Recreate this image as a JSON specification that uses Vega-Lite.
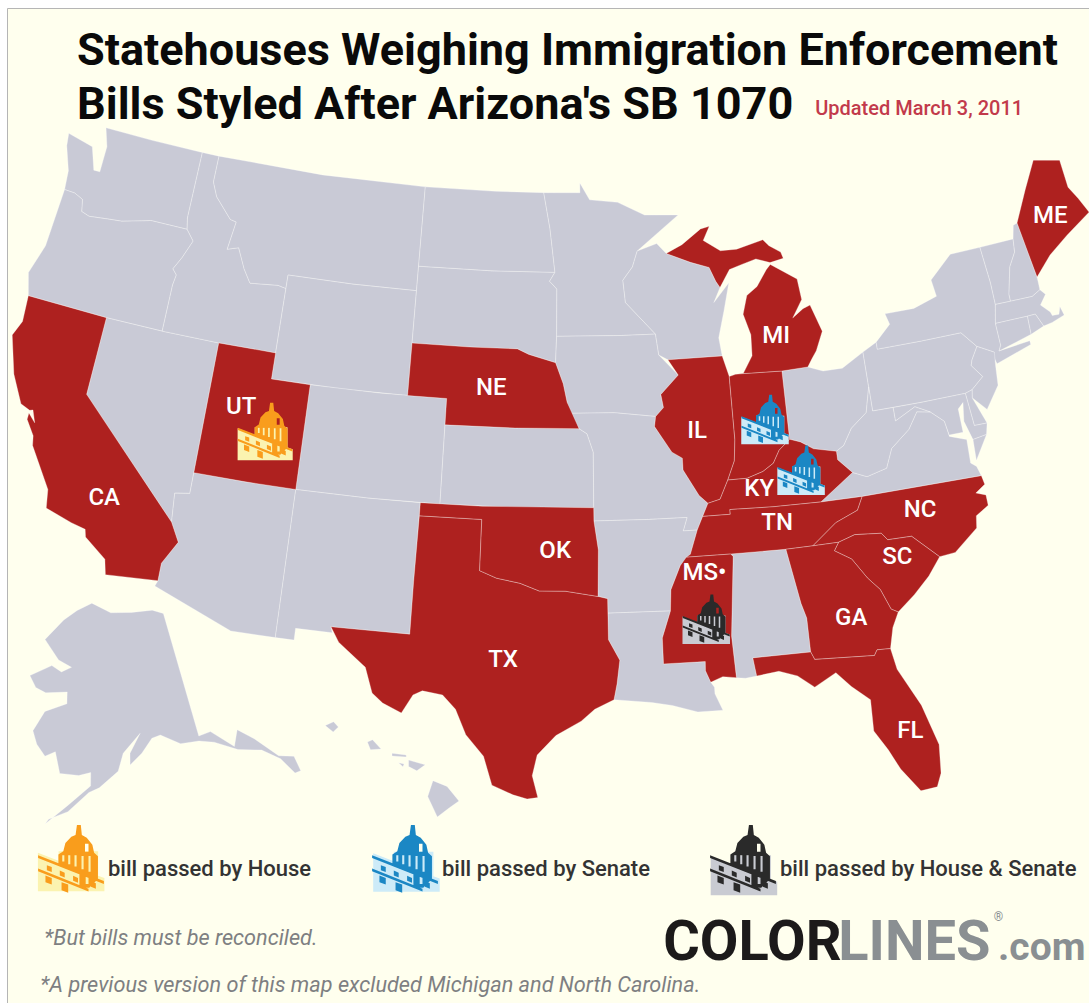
{"$schema":"https://vega.github.io/schema/vega-lite/v6.json","width":1082,"height":995,"padding":{"left":7,"top":8,"right":0,"bottom":0},"autosize":{"type":"none"},"background":"#ffffff","view":{"fill":"#FFFFEE","stroke":"#b5b5b5","strokeWidth":1},
"title":{"text":["Statehouses Weighing Immigration Enforcement","Bills Styled After Arizona's SB 1070"],"anchor":"start","frame":"group","dx":70,"offset":-120,"font":"Roboto","fontWeight":"bold","fontSize":45,"lineHeight":54,"color":"#0a0a0a"},
"projection":{"type":"albers","scale":1500,"translate":[546,455]},
"layer":[
{"data":{"values":[
{"state":"WA","status":"none","geo":{"type":"Polygon","coordinates":[[[-124.7,48.38],[-123.2,48.15],[-122.75,47.3],[-122.4,47.3],[-122.4,48.3],[-122.75,49],[-120,49],[-117.03,49],[-117.04,46.42],[-116.92,45.99],[-118.98,46],[-119.3,45.93],[-120.5,45.7],[-121.2,45.65],[-122.3,45.55],[-122.76,45.65],[-122.9,46.1],[-123.4,46.25],[-124,46.27],[-124.1,47],[-124.6,47.9],[-124.7,48.38]]]}},
{"state":"OR","status":"none","geo":{"type":"Polygon","coordinates":[[[-124,46.27],[-123.4,46.25],[-122.9,46.1],[-122.76,45.65],[-122.3,45.55],[-121.2,45.65],[-120.5,45.7],[-119.3,45.93],[-118.98,46],[-116.92,45.99],[-116.46,45.6],[-116.85,44.9],[-117.2,44.4],[-116.95,44.2],[-117.03,43.8],[-117.03,42],[-120,42],[-124.2,42],[-124.55,42.84],[-124.1,44],[-124,46.27]]]}},
{"state":"NV","status":"none","geo":{"type":"Polygon","coordinates":[[[-120,42],[-117.03,42],[-114.04,42],[-114.04,36.2],[-114.75,36.1],[-114.63,35],[-120,39],[-120,42]]]}},
{"state":"ID","status":"none","geo":{"type":"Polygon","coordinates":[[[-117.03,49],[-116.05,49],[-116.05,47.98],[-115.7,47.45],[-114.7,46.7],[-114.35,46.65],[-114.55,45.56],[-113.95,45.7],[-113.45,44.95],[-113,44.45],[-111.5,44.55],[-111.05,44.48],[-111.05,42],[-114.04,42],[-117.03,42],[-117.03,43.8],[-116.95,44.2],[-117.2,44.4],[-116.85,44.9],[-116.46,45.6],[-116.92,45.99],[-117.04,46.42],[-117.03,49]]]}},
{"state":"MT","status":"none","geo":{"type":"Polygon","coordinates":[[[-116.05,49],[-110,49],[-104.05,49],[-104.05,45],[-107.5,45],[-111.05,45],[-111.05,44.48],[-111.5,44.55],[-113,44.45],[-113.45,44.95],[-113.95,45.7],[-114.55,45.56],[-114.35,46.65],[-114.7,46.7],[-115.7,47.45],[-116.05,47.98],[-116.05,49]]]}},
{"state":"WY","status":"none","geo":{"type":"Polygon","coordinates":[[[-111.05,45],[-107.5,45],[-104.05,45],[-104.05,41],[-107.5,41],[-111.05,41],[-111.05,45]]]}},
{"state":"CO","status":"none","geo":{"type":"Polygon","coordinates":[[[-109.05,41],[-105.5,41],[-102.05,41],[-102.05,37],[-105.5,37],[-109.05,37],[-109.05,41]]]}},
{"state":"AZ","status":"none","geo":{"type":"Polygon","coordinates":[[[-114.04,37],[-111.5,37],[-109.05,37],[-109.05,31.33],[-111.07,31.33],[-114.81,32.5],[-114.72,32.72],[-114.72,33.4],[-114.14,34.3],[-114.63,35],[-114.75,36.1],[-114.04,36.2],[-114.04,37]]]}},
{"state":"NM","status":"none","geo":{"type":"Polygon","coordinates":[[[-109.05,37],[-105.5,37],[-103,37],[-103.04,34],[-103.04,32],[-106.62,32],[-106.53,31.78],[-108.2,31.78],[-108.2,31.33],[-109.05,31.33],[-109.05,37]]]}},
{"state":"KS","status":"none","geo":{"type":"Polygon","coordinates":[[[-102.05,40],[-98.5,40],[-95.3,40],[-94.9,39.8],[-94.6,39.1],[-94.62,37],[-98.5,37],[-102.05,37],[-102.05,40]]]}},
{"state":"SD","status":"none","geo":{"type":"Polygon","coordinates":[[[-104.05,45.94],[-100,45.94],[-96.56,45.94],[-96.85,45.6],[-96.45,45.3],[-96.45,43.5],[-96.5,42.5],[-97.9,42.8],[-98.5,43],[-101,43],[-104.05,43],[-104.05,45.94]]]}},
{"state":"ND","status":"none","geo":{"type":"Polygon","coordinates":[[[-104.05,49],[-100,49],[-97.23,49],[-96.85,47.6],[-96.56,45.94],[-100,45.94],[-104.05,45.94],[-104.05,49]]]}},
{"state":"MN","status":"none","geo":{"type":"Polygon","coordinates":[[[-97.23,49],[-95.15,49],[-95.15,49.38],[-94.6,48.72],[-93,48.6],[-91.5,48.07],[-89.6,48],[-92,46.7],[-92.3,46.1],[-92.85,45.6],[-92.75,44.75],[-91.22,43.5],[-93,43.5],[-96.45,43.5],[-96.45,45.3],[-96.85,45.6],[-96.56,45.94],[-96.85,47.6],[-97.23,49]]]}},
{"state":"IA","status":"none","geo":{"type":"Polygon","coordinates":[[[-96.45,43.5],[-93,43.5],[-91.22,43.5],[-91.1,42.7],[-90.15,41.9],[-91.1,41.2],[-91,40.7],[-91.42,40.38],[-93.5,40.58],[-95.77,40.58],[-95.9,41],[-96.1,41.7],[-96.5,42.5],[-96.45,43.5]]]}},
{"state":"MO","status":"none","geo":{"type":"Polygon","coordinates":[[[-95.77,40.58],[-93.5,40.58],[-91.42,40.38],[-91.5,40],[-90.7,39],[-90.2,38.75],[-90.2,38.3],[-89.5,37.3],[-89.1,36.98],[-89.4,36.5],[-89.7,36],[-90.37,36],[-90.15,36.5],[-92,36.5],[-94.62,36.5],[-94.62,37],[-94.6,39.1],[-94.9,39.8],[-95.3,40],[-95.77,40.58]]]}},
{"state":"AR","status":"none","geo":{"type":"Polygon","coordinates":[[[-94.62,36.5],[-92,36.5],[-90.15,36.5],[-90.37,36],[-89.7,36],[-90.1,35.1],[-90.6,34.7],[-91.1,33.8],[-91.17,33],[-94.04,33],[-94.04,33.55],[-94.48,33.64],[-94.43,35.4],[-94.62,36.5]]]}},
{"state":"LA","status":"none","geo":{"type":"Polygon","coordinates":[[[-94.04,33],[-91.17,33],[-91.6,31.99],[-91.6,31],[-89.73,31],[-89.75,30.65],[-89.55,30.2],[-89.4,30],[-89.4,29.75],[-89.1,29.1],[-90.2,29.1],[-91.3,29.4],[-92.2,29.55],[-93.85,29.7],[-93.7,30.3],[-93.55,31.2],[-94.04,31.99],[-94.04,33]]]}},
{"state":"AL","status":"none","geo":{"type":"Polygon","coordinates":[[[-88.2,35],[-85.6,34.98],[-85.18,32.87],[-85,32.3],[-85,31],[-87.6,31],[-87.5,30.3],[-88,30.25],[-88.4,30.3],[-88.47,31.9],[-88.1,34.9],[-88.2,35]]]}},
{"state":"WI","status":"none","geo":{"type":"Polygon","coordinates":[[[-92,46.7],[-90.9,46.95],[-90.4,46.55],[-89.1,46.15],[-88.1,45.9],[-87.8,45.35],[-87.6,45.1],[-88,44.55],[-87.1,45.25],[-87.5,44.2],[-87.9,43.2],[-87.8,42.5],[-90.64,42.5],[-91.1,42.7],[-91.22,43.5],[-92.75,44.75],[-92.85,45.6],[-92.3,46.1],[-92,46.7]]]}},
{"state":"OH","status":"none","geo":{"type":"Polygon","coordinates":[[[-84.8,41.7],[-83.45,41.73],[-82.7,41.5],[-81.7,41.5],[-80.52,41.98],[-80.52,40.64],[-80.85,39.7],[-81.7,39.2],[-82.2,38.6],[-82.6,38.42],[-83.7,38.63],[-84.3,38.95],[-84.82,39.1],[-84.8,41.7]]]}},
{"state":"PA","status":"none","geo":{"type":"Polygon","coordinates":[[[-80.52,41.98],[-79.76,42.27],[-79.76,42],[-77.5,42],[-75.35,42],[-74.7,41.36],[-75.1,40.9],[-75.2,40.7],[-74.75,40.2],[-75.42,39.8],[-75.79,39.72],[-78,39.72],[-80.52,39.72],[-80.52,40.64],[-80.52,41.98]]]}},
{"state":"NY","status":"none","geo":{"type":"Polygon","coordinates":[[[-79.76,42.27],[-78.9,42.85],[-79.05,43.27],[-77.5,43.27],[-76.2,43.55],[-76.3,44.2],[-75,45],[-73.35,45],[-73.25,43.6],[-73.27,42.75],[-73.5,42.05],[-73.5,41.2],[-73.65,41],[-72,41.1],[-72,40.95],[-73.9,40.55],[-74,40.9],[-73.9,41],[-74.7,41.36],[-75.35,42],[-77.5,42],[-79.76,42],[-79.76,42.27]]]}},
{"state":"NJ","status":"none","geo":{"type":"Polygon","coordinates":[[[-74.7,41.36],[-73.9,41],[-74,40.45],[-74.1,39.75],[-74.9,38.95],[-75.5,39.5],[-75.42,39.8],[-74.75,40.2],[-75.2,40.7],[-75.1,40.9],[-74.7,41.36]]]}},
{"state":"VT","status":"none","geo":{"type":"Polygon","coordinates":[[[-73.35,45],[-71.5,45],[-71.6,44.5],[-72.05,44],[-72.45,43],[-72.46,42.73],[-73.27,42.75],[-73.25,43.6],[-73.35,45]]]}},
{"state":"NH","status":"none","geo":{"type":"Polygon","coordinates":[[[-71.5,45],[-71.3,45.5],[-71.07,45.55],[-70.79,43.36],[-70.82,42.87],[-71.3,42.7],[-72.46,42.73],[-72.45,43],[-72.05,44],[-71.6,44.5],[-71.5,45]]]}},
{"state":"MA","status":"none","geo":{"type":"Polygon","coordinates":[[[-73.27,42.75],[-72.46,42.73],[-71.3,42.7],[-70.82,42.87],[-70.6,42.65],[-71,42.3],[-70.6,41.95],[-70.55,41.8],[-70.2,41.78],[-70.05,42.05],[-69.95,41.7],[-70.65,41.55],[-71.12,41.5],[-71.38,42.02],[-71.8,42.02],[-73.5,42.05],[-73.27,42.75]]]}},
{"state":"CT","status":"none","geo":{"type":"Polygon","coordinates":[[[-73.5,42.05],[-71.8,42.02],[-71.85,41.32],[-73.65,41],[-73.5,41.2],[-73.5,42.05]]]}},
{"state":"RI","status":"none","geo":{"type":"Polygon","coordinates":[[[-71.8,42.02],[-71.38,42.02],[-71.12,41.5],[-71.85,41.32],[-71.8,42.02]]]}},
{"state":"DE","status":"none","geo":{"type":"Polygon","coordinates":[[[-75.79,39.72],[-75.42,39.8],[-75.5,39.5],[-75.05,38.45],[-75.69,38.46],[-75.79,39.72]]]}},
{"state":"MD","status":"none","geo":{"type":"Polygon","coordinates":[[[-79.48,39.72],[-78,39.72],[-75.79,39.72],[-75.69,38.46],[-75.05,38.45],[-75.2,38.03],[-75.9,37.95],[-76.15,38.7],[-76,39.4],[-76.3,39.2],[-76.3,38.3],[-77,38.3],[-77.1,38.85],[-77.7,39.3],[-78.4,39.6],[-79.48,39.2],[-79.48,39.72]]]}},
{"state":"VA","status":"none","geo":{"type":"MultiPolygon","coordinates":[[[[-83.68,36.6],[-81.97,37.54],[-81.3,37.3],[-80.3,37.5],[-79.9,38.2],[-78.9,38.8],[-78.35,39.4],[-77.7,39.3],[-77.1,38.85],[-77,38.25],[-76.2,38],[-76.25,37.1],[-76,36.93],[-75.87,36.55],[-81.68,36.59],[-83.68,36.6]]],[[[-75.9,37.95],[-75.2,38.03],[-75.95,37.15],[-75.9,37.95]]]]}},
{"state":"WV","status":"none","geo":{"type":"Polygon","coordinates":[[[-80.52,40.64],[-80.52,39.72],[-79.48,39.72],[-79.48,39.2],[-78.4,39.6],[-77.7,39.3],[-78.35,39.4],[-78.9,38.8],[-79.9,38.2],[-80.3,37.5],[-81.3,37.3],[-81.97,37.54],[-82.6,38.1],[-82.6,38.42],[-82.2,38.6],[-81.7,39.2],[-80.85,39.7],[-80.52,40.64]]]}},
{"state":"AK","status":"none","geo":{"type":"Polygon","coordinates":[[[-117.43,31.36],[-116.51,31.16],[-115.6,31.34],[-114.71,31.58],[-114.19,31.54],[-111.71,27.17],[-111.25,27.41],[-110.14,26.99],[-110.13,27.64],[-109.35,27.39],[-108.22,26.87],[-107.57,26.92],[-107.21,26.4],[-107.44,26.29],[-108.12,26.76],[-108.97,27],[-109.97,26.89],[-111.02,27.03],[-111.67,26.98],[-112.42,26.76],[-113.33,26.95],[-113.66,26.77],[-113.96,26.13],[-114.35,25.6],[-114.45,26.04],[-114.19,26.87],[-114.73,25.99],[-114.79,25.27],[-115.42,24.5],[-115.8,24.24],[-116.48,23.34],[-117.18,22.89],[-117.28,22.68],[-116.53,23.59],[-115.79,24.5],[-115.9,25.01],[-116.36,24.8],[-117.15,24.72],[-117.53,25.5],[-117.91,25.24],[-118.36,25.62],[-118.65,26.09],[-118.35,26.92],[-117.51,27.4],[-117.61,27.84],[-118.5,27.62],[-118.97,27.73],[-119.34,28.12],[-118.52,28.69],[-118.05,28.54],[-117.67,28.8],[-118.29,28.96],[-119.08,29.6],[-118.48,30.49],[-118,30.96],[-117.43,31.36]]]}},
{"state":"HI","status":"none","geo":{"type":"MultiPolygon","coordinates":[[[[-101.6,26.47],[-100.99,26.28],[-100.46,25.74],[-100.86,25.45],[-101.33,25.08],[-101.78,25.85],[-101.6,26.47]]],[[[-102.69,27.2],[-101.97,27.06],[-102.31,26.81],[-102.67,26.95],[-102.69,27.2]]],[[[-103.42,27.41],[-102.81,27.39],[-102.8,27.31],[-103.41,27.31],[-103.42,27.41]]],[[[-103.11,27.07],[-102.87,27.04],[-102.91,26.93],[-103.11,27.07]]],[[[-104.51,27.76],[-104.3,27.87],[-103.9,27.54],[-104.35,27.48],[-104.51,27.76]]],[[[-106.39,28.23],[-106.05,28.41],[-105.82,28.23],[-106.02,28.02],[-106.39,28.23]]]]}},
{"state":"CA","status":"bill","geo":{"type":"Polygon","coordinates":[[[-124.2,42],[-120,42],[-120,39],[-114.63,35],[-114.14,34.3],[-114.72,33.4],[-114.72,32.72],[-117.12,32.53],[-117.3,33.1],[-118.4,33.75],[-118.5,34.03],[-119.2,34.15],[-120.5,34.45],[-120.65,35.15],[-121.9,36.6],[-122,36.96],[-122.5,37.5],[-122.5,37.75],[-122.1,37.45],[-122.35,37.9],[-122.5,37.85],[-123,38],[-123.75,39],[-124.4,40.4],[-124.1,41],[-124.2,42]]]}},
{"state":"UT","status":"bill","geo":{"type":"Polygon","coordinates":[[[-114.04,42],[-111.05,42],[-111.05,41],[-109.05,41],[-109.05,37],[-111.5,37],[-114.04,37],[-114.04,42]]]}},
{"state":"NE","status":"bill","geo":{"type":"Polygon","coordinates":[[[-104.05,43],[-101,43],[-98.5,43],[-97.9,42.8],[-96.5,42.5],[-96.1,41.7],[-95.9,41],[-95.3,40],[-98.5,40],[-102.05,40],[-102.05,41],[-104.05,41],[-104.05,43]]]}},
{"state":"TX","status":"bill","geo":{"type":"Polygon","coordinates":[[[-103,36.5],[-100,36.5],[-100,34.56],[-99.2,34.3],[-98.1,34.13],[-97.2,33.85],[-96,33.85],[-94.48,33.64],[-94.04,33.55],[-94.04,33],[-94.04,31.99],[-93.55,31.2],[-93.7,30.3],[-93.85,29.7],[-94.7,29.35],[-95.3,28.9],[-96.4,28.35],[-97.2,27.6],[-97.4,26.8],[-97.15,25.96],[-97.6,25.9],[-98.2,26.05],[-99.1,26.4],[-99.5,27.5],[-100.3,28.3],[-100.8,29.25],[-101.4,29.77],[-102.3,29.88],[-102.7,29.7],[-103.15,28.98],[-104,29.3],[-104.5,29.65],[-104.9,30.6],[-106.2,31.45],[-106.62,32],[-103.04,32],[-103.04,34],[-103,36.5]]]}},
{"state":"OK","status":"bill","geo":{"type":"Polygon","coordinates":[[[-103,37],[-100,37],[-94.62,37],[-94.62,36.5],[-94.43,35.4],[-94.48,33.64],[-96,33.85],[-97.2,33.85],[-98.1,34.13],[-99.2,34.3],[-100,34.56],[-100,36.5],[-103,36.5],[-103,37]]]}},
{"state":"IL","status":"bill","geo":{"type":"Polygon","coordinates":[[[-90.64,42.5],[-87.8,42.5],[-87.53,41.7],[-87.53,39.3],[-87.65,38.5],[-88.05,37.8],[-88.5,37.1],[-89.1,36.98],[-89.5,37.3],[-90.2,38.3],[-90.2,38.75],[-90.7,39],[-91.5,40],[-91.42,40.38],[-91,40.7],[-91.1,41.2],[-90.15,41.9],[-90.64,42.5]]]}},
{"state":"IN","status":"bill","geo":{"type":"Polygon","coordinates":[[[-87.53,41.7],[-87.2,41.76],[-86.8,41.76],[-84.8,41.7],[-84.82,39.1],[-85.4,38.73],[-85.75,38.27],[-86.3,38],[-87.1,37.8],[-88.05,37.8],[-87.65,38.5],[-87.53,39.3],[-87.53,41.7]]]}},
{"state":"KY","status":"bill","geo":{"type":"Polygon","coordinates":[[[-89.1,36.98],[-88.5,37.1],[-88.05,37.8],[-87.1,37.8],[-86.3,38],[-85.75,38.27],[-85.4,38.73],[-84.82,39.1],[-84.3,38.95],[-83.7,38.63],[-82.6,38.42],[-82.6,38.1],[-81.97,37.54],[-83.68,36.6],[-86,36.63],[-88.07,36.68],[-88.07,36.5],[-89.4,36.5],[-89.1,36.98]]]}},
{"state":"TN","status":"bill","geo":{"type":"Polygon","coordinates":[[[-89.4,36.5],[-88.07,36.5],[-88.07,36.68],[-86,36.63],[-83.68,36.6],[-81.68,36.59],[-82,36.1],[-83.1,35.75],[-84.32,34.99],[-85.6,34.98],[-88.2,35],[-90.3,35],[-90.1,35.1],[-89.7,36],[-89.4,36.5]]]}},
{"state":"MS","status":"bill","geo":{"type":"Polygon","coordinates":[[[-90.3,35],[-88.2,35],[-88.1,34.9],[-88.47,31.9],[-88.4,30.3],[-89,30.38],[-89.55,30.2],[-89.75,30.65],[-89.73,31],[-91.6,31],[-91.6,31.99],[-91.17,33],[-91.1,33.8],[-90.6,34.7],[-90.3,35]]]}},
{"state":"MI","status":"bill","geo":{"type":"MultiPolygon","coordinates":[[[[-84.75,45.78],[-83.4,45.1],[-83.3,44.3],[-83.9,43.65],[-83.3,43.95],[-82.9,44.05],[-82.45,43],[-82.9,42.3],[-83.2,42],[-83.45,41.73],[-84.8,41.7],[-86.8,41.76],[-86.25,42.4],[-86.2,43.2],[-86.5,44],[-86.2,44.7],[-85.6,45],[-85,45.6],[-84.75,45.78]]],[[[-90.4,46.55],[-89.5,46.85],[-88.4,47.4],[-87.9,47.47],[-88.3,46.95],[-87.4,46.5],[-86.5,46.5],[-85,46.75],[-84.7,46.5],[-84.1,46.2],[-84,45.95],[-84.75,45.85],[-85.5,46.05],[-86.3,45.9],[-87,45.75],[-87.6,45.1],[-87.8,45.35],[-88.1,45.9],[-89.1,46.15],[-90.4,46.55]]]]}},
{"state":"ME","status":"bill","geo":{"type":"Polygon","coordinates":[[[-71.07,45.55],[-70.16,46.69],[-69.27,47.7],[-67.85,47.41],[-67.84,46.33],[-67.49,45.81],[-67.14,45.18],[-68.63,44.59],[-69.81,44.04],[-70.79,43.36],[-71.07,45.55]]]}},
{"state":"NC","status":"bill","geo":{"type":"Polygon","coordinates":[[[-84.32,34.99],[-83.1,35.75],[-82,36.1],[-81.68,36.59],[-75.87,36.55],[-75.8,36.2],[-76.3,35.95],[-75.85,35.8],[-75.85,35.4],[-76.5,35.1],[-76.6,34.65],[-77.8,33.9],[-78.55,33.85],[-79.67,34.8],[-80.8,34.82],[-81.05,35.1],[-82.3,35.2],[-83.1,35],[-84.32,34.99]]]}},
{"state":"SC","status":"bill","geo":{"type":"Polygon","coordinates":[[[-83.1,35],[-82.3,35.2],[-81.05,35.1],[-80.8,34.82],[-79.67,34.8],[-78.55,33.85],[-79.2,33.2],[-80,32.6],[-80.85,32.05],[-81.15,32.2],[-81.5,33],[-82,33.5],[-82.6,34.3],[-83.35,34.7],[-83.1,35]]]}},
{"state":"GA","status":"bill","geo":{"type":"Polygon","coordinates":[[[-85.6,34.98],[-84.32,34.99],[-83.1,35],[-83.35,34.7],[-82.6,34.3],[-82,33.5],[-81.5,33],[-81.15,32.2],[-80.85,32.05],[-81.2,31.5],[-81.45,30.72],[-82.05,30.75],[-82.2,30.55],[-84.86,30.7],[-85,31],[-85,32.3],[-85.18,32.87],[-85.6,34.98]]]}},
{"state":"FL","status":"bill","geo":{"type":"Polygon","coordinates":[[[-87.6,31],[-85,31],[-84.86,30.7],[-82.2,30.55],[-82.05,30.75],[-81.45,30.72],[-81.3,29.9],[-80.5,28.4],[-80.03,26.8],[-80.15,25.7],[-80.4,25.2],[-81.1,25.15],[-81.8,26.1],[-82.2,26.9],[-82.7,27.7],[-82.65,28.9],[-83.4,29.5],[-84,30.1],[-85,29.65],[-85.7,30.15],[-86.5,30.4],[-87.5,30.3],[-87.6,31]]]}}
]},"mark":{"type":"geoshape","stroke":"#ffffff","strokeOpacity":0.3,"strokeWidth":1},"encoding":{"shape":{"field":"geo","type":"geojson"},"fill":{"field":"status","type":"nominal","scale":{"domain":["none","bill"],"range":["#C9CAD6","#AE211F"]},"legend":null}}},
{"data":{"name":"icons","values":[
{"place":"UT","role":"map","bill":"bill passed by House","lon":-110.95,"lat":39.01},
{"place":"IN","role":"map","bill":"bill passed by Senate","lon":-85.93,"lat":39.96},
{"place":"KY","role":"map","bill":"bill passed by Senate","lon":-84.44,"lat":37.89},
{"place":"MS","role":"map","bill":"bill passed by House & Senate","lon":-89.56,"lat":32.61},
{"place":"key1","role":"key","bill":"bill passed by House","lon":-115.97,"lat":21.67},
{"place":"key2","role":"key","bill":"bill passed by Senate","lon":-102.5,"lat":23.47},
{"place":"key3","role":"key","bill":"bill passed by House & Senate","lon":-88.69,"lat":23.28}
]},"mark":{"type":"point","filled":true,"opacity":1,"strokeWidth":0,"shape":"M-.95,-.1L-.36,.13L-.36,-.14L.77,-.14L.77,.56L.95,.62L.95,1L-.95,1Z"},"encoding":{"longitude":{"field":"lon","type":"quantitative"},"latitude":{"field":"lat","type":"quantitative"},"fill":{"field":"bill","type":"nominal","scale":{"domain":["bill passed by House","bill passed by Senate","bill passed by House & Senate"],"range":["#FBF3B0","#CDEBF8","#C9CBD2"]},"legend":null},"size":{"condition":[{"test":"datum.role==='key'","value":4900},{"test":"datum.place==='UT'","value":3364}],"value":2500}}},
{"data":{"name":"icons"},"transform":[{"filter":"datum.role==='map'"}],"mark":{"type":"point","filled":true,"opacity":1,"strokeWidth":0,"shape":"M.17,-.98L.28,-.98L.31,-.7L.45,-.62L.61,-.42L.66,-.19L.77,-.09L.77,.56L.52,.81L.24,.81L.24,.37L-.36,.14L-.36,-.14L-.22,-.23L-.16,-.47L.01,-.65L.13,-.7ZM-.25,-.12L-.25,.06L-.19,.06L-.19,-.12ZM-.08,-.12L-.08,.14L-.02,.14L-.02,-.12ZM.1,-.12L.1,.2L.16,.2L.16,-.12ZM.3,-.1L.3,.28L.36,.28L.36,-.1ZM.5,-.1L.5,.35L.56,.35L.56,-.1ZM.4,-.45L.4,-.22L.5,-.22L.5,-.45ZM.42,.45L.42,.7L.5,.7L.5,.45ZM-.94,-.12L.94,.62L.94,.7L-.94,-.04ZM-.94,.26L.5,.84L.5,.92L-.94,.34ZM-.69,.17L-.55,.22L-.55,.36L-.69,.31ZM-.32,.32L-.18,.38L-.18,.52L-.32,.46ZM.06,.47L.2,.53L.2,.67L.06,.61ZM-.73,.46L-.55,.53L-.55,.72L-.73,.65ZM-.27,.65L-.08,.72L-.08,.95L-.27,.88ZM.57,.62L.71,.68L.71,.84L.57,.78Z"},"encoding":{"longitude":{"field":"lon","type":"quantitative"},"latitude":{"field":"lat","type":"quantitative"},"color":{"field":"bill","type":"nominal","scale":{"domain":["bill passed by House","bill passed by Senate","bill passed by House & Senate"],"range":["#F99D1C","#1B87C4","#2A2A2A"]},"legend":{"title":null,"orient":"none","legendX":29,"legendY":816,"direction":"horizontal","columns":3,"gridAlign":"each","columnPadding":58,"symbolType":"M.17,-.98L.28,-.98L.31,-.7L.45,-.62L.61,-.42L.66,-.19L.77,-.09L.77,.56L.52,.81L.24,.81L.24,.37L-.36,.14L-.36,-.14L-.22,-.23L-.16,-.47L.01,-.65L.13,-.7ZM-.25,-.12L-.25,.06L-.19,.06L-.19,-.12ZM-.08,-.12L-.08,.14L-.02,.14L-.02,-.12ZM.1,-.12L.1,.2L.16,.2L.16,-.12ZM.3,-.1L.3,.28L.36,.28L.36,-.1ZM.5,-.1L.5,.35L.56,.35L.56,-.1ZM.4,-.45L.4,-.22L.5,-.22L.5,-.45ZM.42,.45L.42,.7L.5,.7L.5,.45ZM-.94,-.12L.94,.62L.94,.7L-.94,-.04ZM-.94,.26L.5,.84L.5,.92L-.94,.34ZM-.69,.17L-.55,.22L-.55,.36L-.69,.31ZM-.32,.32L-.18,.38L-.18,.52L-.32,.46ZM.06,.47L.2,.53L.2,.67L.06,.61ZM-.73,.46L-.55,.53L-.55,.72L-.73,.65ZM-.27,.65L-.08,.72L-.08,.95L-.27,.88ZM.57,.62L.71,.68L.71,.84L.57,.78Z","symbolSize":4900,"symbolStrokeWidth":0,"symbolOpacity":1,"labelFont":"Roboto","labelFontSize":22,"labelFontWeight":500,"labelColor":"#333333","labelOffset":2,"labelLimit":400,"labelBaseline":"top"}},"size":{"condition":[{"test":"datum.place==='UT'","value":3364}],"value":2500}}},
{"data":{"values":[
{"label":"UT","lon":-112.33,"lat":39.76},{"label":"CA","lon":-117.97,"lat":35.35},{"label":"NE","lon":-99.8,"lat":41.48},{"label":"IL","lon":-89.38,"lat":39.73},{"label":"KY","lon":-86.57,"lat":37.35},{"label":"TN","lon":-85.88,"lat":36.0},{"label":"MS•","lon":-89.5,"lat":34.37},{"label":"NC","lon":-79.06,"lat":35.72},{"label":"SC","lon":-80.49,"lat":34.11},{"label":"GA","lon":-83.0,"lat":32.09},{"label":"OK","lon":-96.47,"lat":35.37},{"label":"TX","lon":-98.78,"lat":31.2},{"label":"FL","lon":-81.15,"lat":27.49},{"label":"MI","lon":-84.89,"lat":43.04},{"label":"ME","lon":-69.22,"lat":45.48}
]},"mark":{"type":"text","font":"Roboto","fontWeight":500,"fontSize":24,"color":"#ffffff"},"encoding":{"longitude":{"field":"lon","type":"quantitative"},"latitude":{"field":"lat","type":"quantitative"},"text":{"field":"label"}}},
{"data":{"values":[{"note":"Updated March 3, 2011","lon":-81.04,"lat":51.25}]},"mark":{"type":"text","align":"left","baseline":"alphabetic","font":"Roboto","fontWeight":500,"fontSize":20,"color":"#C23A4B"},"encoding":{"longitude":{"field":"lon","type":"quantitative"},"latitude":{"field":"lat","type":"quantitative"},"text":{"field":"note"}}},
{"data":{"values":[{"note":"*But bills must be reconciled.","lon":-116.27,"lat":18.02},{"note":"*A previous version of this map excluded Michigan and North Carolina.","lon":-116.04,"lat":16.15}]},"mark":{"type":"text","align":"left","baseline":"alphabetic","font":"Roboto","fontStyle":"italic","fontSize":21.7,"color":"#7e7f82"},"encoding":{"longitude":{"field":"lon","type":"quantitative"},"latitude":{"field":"lat","type":"quantitative"},"text":{"field":"note"}}},
{"data":{"values":[{"logo":"COLOR","lon":-92.15,"lat":19.56,"tone":"dark"},{"logo":"LINES","lon":-85.32,"lat":19.03,"tone":"grey"}]},"mark":{"type":"text","align":"left","baseline":"alphabetic","font":"Roboto","fontWeight":"bold","fontSize":56},"encoding":{"longitude":{"field":"lon","type":"quantitative"},"latitude":{"field":"lat","type":"quantitative"},"text":{"field":"logo"},"color":{"field":"tone","type":"nominal","scale":{"domain":["dark","grey"],"range":["#1c1a1a","#8a8f92"]},"legend":null}}},
{"data":{"values":[{"logo":".com","lon":-79.18,"lat":18.11}]},"mark":{"type":"text","align":"left","baseline":"alphabetic","font":"Roboto","fontWeight":"bold","fontSize":39,"color":"#8a8f92"},"encoding":{"longitude":{"field":"lon","type":"quantitative"},"latitude":{"field":"lat","type":"quantitative"},"text":{"field":"logo"}}},
{"data":{"values":[{"logo":"®","lon":-79.07,"lat":19.66}]},"mark":{"type":"text","align":"left","baseline":"alphabetic","font":"Roboto","fontSize":12,"color":"#8a8f92"},"encoding":{"longitude":{"field":"lon","type":"quantitative"},"latitude":{"field":"lat","type":"quantitative"},"text":{"field":"logo"}}}
],
"resolve":{"scale":{"fill":"independent","color":"independent"}},
"config":{"style":{"guide-label":{"font":"Roboto"}}}}
